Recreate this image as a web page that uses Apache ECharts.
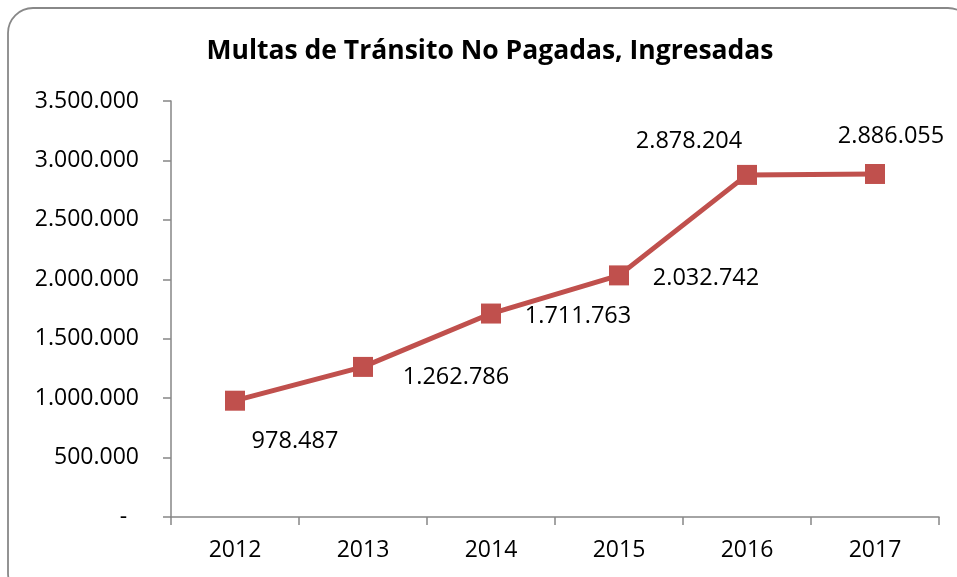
<!DOCTYPE html>
<html><head><meta charset="utf-8">
<script src="https://cdn.jsdelivr.net/npm/echarts@6/dist/echarts.min.js"></script>
<style>html,body{margin:0;padding:0;background:#fff}#c{width:957px;height:577px}</style>
</head><body><div id="c"></div>
<script>
const titleText = 'Multas de Tránsito No Pagadas, Ingresadas';
const categories = ['2012','2013','2014','2015','2016','2017'];
const values = [978487, 1262786, 1711763, 2032742, 2878204, 2886055];
const yTicks = [0, 500000, 1000000, 1500000, 2000000, 2500000, 3000000, 3500000];

const labelOffsets = [[60,41],[93,10],[87,3],[87,3],[-58,-34],[16,-38]];
function fmt(v){ return String(Math.round(v)).replace(/\B(?=(\d{3})+(?!\d))/g,'.'); }
const FONT = 'Open Sans';

const chart = echarts.init(document.getElementById('c'), null, {renderer:'canvas'});
chart.setOption({
  animation:false,
  backgroundColor:'#fff',
  graphic:[{type:'rect',shape:{x:8,y:8,width:965,height:590,r:25},style:{fill:'none',stroke:'#888888',lineWidth:1.8},z:-1}],
  title:{text:titleText,left:485,textAlign:'center',top:33,
    textStyle:{fontFamily:FONT,fontWeight:'bold',fontSize:26.5,color:'#000'}},
  grid:{left:171,right:18,top:101,bottom:60},
  xAxis:{type:'category',data:categories,boundaryGap:true,
    axisLine:{lineStyle:{color:'#868686',width:1.5}},
    axisTick:{show:true,length:8,alignWithLabel:false,lineStyle:{color:'#868686',width:1.5}},
    axisLabel:{margin:22,color:'#000',fontFamily:FONT,fontSize:23},
    splitLine:{show:false}},
  yAxis:{type:'value',min:yTicks[0],max:yTicks[yTicks.length-1],interval:yTicks[1]-yTicks[0],
    axisLine:{show:true,lineStyle:{color:'#868686',width:1.5}},
    axisTick:{show:true,length:8,lineStyle:{color:'#868686',width:1.5}},
    axisLabel:{margin:32,color:'#000',fontFamily:FONT,fontSize:23,
      formatter:v=>v===0?'-  ':fmt(v)},
    splitLine:{show:false}},
  series:[{type:'line',
    data:values.map((v,i)=>({value:v,label:{offset:labelOffsets[i]}})),
    symbol:'rect',symbolSize:20,
    lineStyle:{color:'#C0504D',width:5},
    itemStyle:{color:'#C0504D'},
    label:{show:true,position:'inside',color:'#000',fontFamily:FONT,fontSize:23.5,
      formatter:p=>fmt(p.value)}
  }]
});
</script></body></html>
